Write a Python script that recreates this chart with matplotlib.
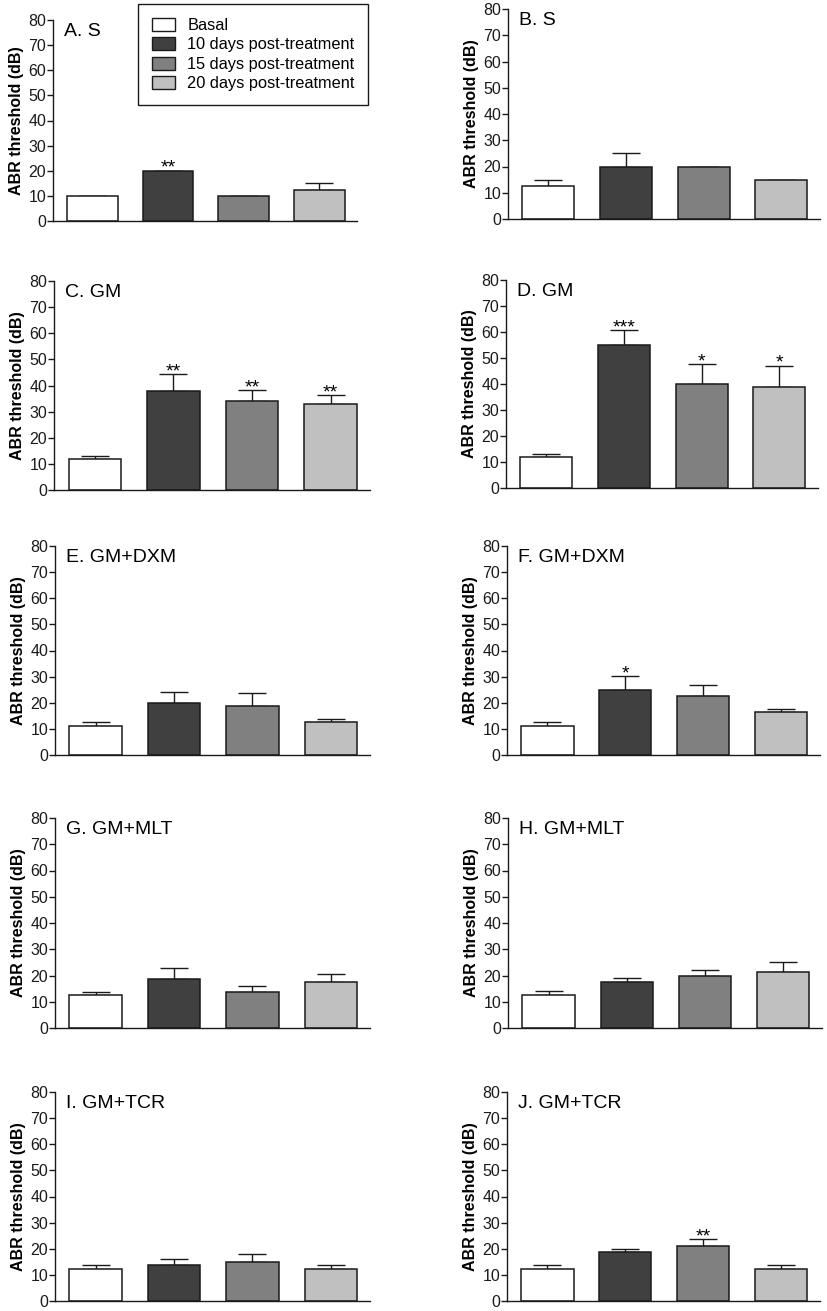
import matplotlib
matplotlib.use('Agg')
import matplotlib.pyplot as plt
from matplotlib.patches import Patch
import numpy as np

plt.rcParams['font.family'] = ['Liberation Sans', 'DejaVu Sans']

groups = ['Basal', '10 days post-treatment', '15 days post-treatment', '20 days post-treatment']
titles = ['A. S', 'B. S', 'C. GM', 'D. GM', 'E. GM+DXM', 'F. GM+DXM',
          'G. GM+MLT', 'H. GM+MLT', 'I. GM+TCR', 'J. GM+TCR']
y_ticks = [0, 10, 20, 30, 40, 50, 60, 70, 80]

# mean threshold (dB) and upper SEM for each panel
mean_a = [10, 20, 10, 12.5]
sem_a = [0, 0, 0, 2.5]
sig_a = ['', '**', '', '']

mean_b = [12.5, 20, 20, 15]
sem_b = [2.5, 5, 0, 0]
sig_b = ['', '', '', '']

mean_c = [11.8, 37.9, 33.9, 32.9]
sem_c = [1.3, 6.4, 4.2, 3.3]
sig_c = ['', '**', '**', '**']

mean_d = [11.9, 55.0, 40.0, 39.0]
sem_d = [1.3, 5.8, 7.6, 8.0]
sig_d = ['', '***', '*', '*']

mean_e = [11.2, 20.0, 18.7, 12.5]
sem_e = [1.3, 4.0, 5.1, 1.4]
sig_e = ['', '', '', '']

mean_f = [11.2, 25.0, 22.4, 16.3]
sem_f = [1.3, 5.1, 4.5, 1.3]
sig_f = ['', '*', '', '']

mean_g = [12.4, 18.8, 13.6, 17.4]
sem_g = [1.4, 4.2, 2.5, 3.2]
sig_g = ['', '', '', '']

mean_h = [12.5, 17.4, 20.0, 21.2]
sem_h = [1.5, 1.6, 2.0, 3.9]
sig_h = ['', '', '', '']

mean_i = [12.3, 13.6, 14.9, 12.3]
sem_i = [1.5, 2.4, 2.9, 1.5]
sig_i = ['', '', '', '']

mean_j = [12.3, 18.6, 21.1, 12.3]
sem_j = [1.5, 1.3, 2.5, 1.5]
sig_j = ['', '', '**', '']

means = [mean_a, mean_b, mean_c, mean_d, mean_e, mean_f, mean_g, mean_h, mean_i, mean_j]
sems = [sem_a, sem_b, sem_c, sem_d, sem_e, sem_f, sem_g, sem_h, sem_i, sem_j]
sigs = [sig_a, sig_b, sig_c, sig_d, sig_e, sig_f, sig_g, sig_h, sig_i, sig_j]

colors = ['#ffffff', '#404040', '#808080', '#c0c0c0']
edge = '#1a1a1a'

W, H = 827, 1311
# axes boxes in pixels: x0, x1, ytop, ybottom
boxes = [(53, 357, 20, 221), (508, 820, 9, 219),
         (54, 370, 281, 490), (506, 818, 280, 488),
         (55, 370, 546, 755), (507, 820, 546, 755),
         (55, 370, 818, 1028), (508, 822, 818, 1028),
         (55, 370, 1092, 1301), (507, 820, 1092, 1301)]

fig = plt.figure(figsize=(W / 100, H / 100), dpi=100)

for k in range(10):
    x0, x1, yt, yb = boxes[k]
    ax = fig.add_axes([x0 / W, 1 - yb / H, (x1 - x0) / W, (yb - yt) / H])
    x = np.arange(4)
    m = np.array(means[k])
    e = np.array(sems[k])
    ax.errorbar(x, m, yerr=[np.zeros(4), e], fmt='none', ecolor=edge,
                elinewidth=1.0, capsize=10, capthick=1.0, zorder=1)
    ax.bar(x, m, width=0.67, color=colors, edgecolor=edge, linewidth=1.1, zorder=2)
    for i in range(4):
        if sigs[k][i]:
            ax.annotate(sigs[k][i], (x[i], m[i] + e[i]), xytext=(0, -1.5),
                        textcoords='offset points', ha='center', va='baseline',
                        fontsize=14)
    ax.set_xlim(-0.52, 3.5)
    ax.set_ylim(0, 80)
    ax.set_yticks(y_ticks)
    ax.set_xticks([])
    ax.tick_params(axis='y', direction='out', length=4, width=1.0, labelsize=11.5,
                   pad=1, colors='#1a1a1a')
    for s in ['top', 'right']:
        ax.spines[s].set_visible(False)
    for s in ['left', 'bottom']:
        ax.spines[s].set_linewidth(1.0)
        ax.spines[s].set_color('#1a1a1a')
    ax.set_ylabel('ABR threshold (dB)', fontsize=11.5, fontweight='bold', labelpad=3)
    ax.text(0.035, 0.985, titles[k], transform=ax.transAxes, ha='left', va='top',
            fontsize=14)

handles = [Patch(facecolor=c, edgecolor=edge, linewidth=1.0) for c in colors]
fig.legend(handles, groups, loc='upper left', bbox_to_anchor=(138 / W, 1 - 4 / H),
           bbox_transform=fig.transFigure, fontsize=11.8, frameon=True,
           fancybox=False, edgecolor='#1a1a1a', framealpha=1, borderaxespad=0,
           borderpad=0.85, handlelength=1.4, handleheight=0.85, handletextpad=0.75,
           labelspacing=0.25)
fig.legends[0].get_frame().set_linewidth(1.0)

fig.savefig('out.png', dpi=100)
